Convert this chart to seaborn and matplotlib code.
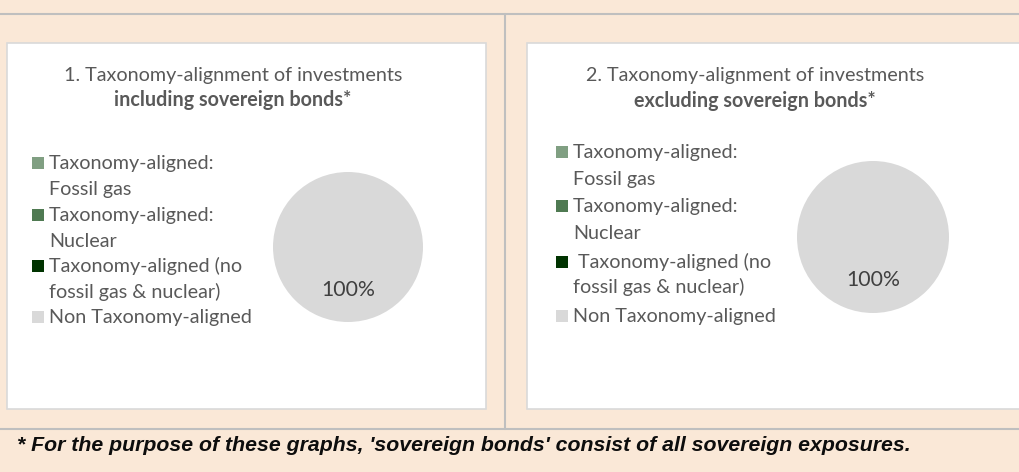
import matplotlib
matplotlib.use("Agg")
import matplotlib.pyplot as plt
import seaborn as sns
from matplotlib.patches import Rectangle
from matplotlib.lines import Line2D

# ---- data -------------------------------------------------------------
categories_incl = [
    "Taxonomy-aligned:\nFossil gas",
    "Taxonomy-aligned:\nNuclear",
    "Taxonomy-aligned (no\nfossil gas & nuclear)",
    "Non Taxonomy-aligned",
]
categories_excl = [
    "Taxonomy-aligned:\nFossil gas",
    "Taxonomy-aligned:\nNuclear",
    " Taxonomy-aligned (no\nfossil gas & nuclear)",
    "Non Taxonomy-aligned",
]
share_incl = [0, 0, 0, 100]
share_excl = [0, 0, 0, 100]
slice_colors = ["#809F82", "#4F7A52", "#003300", "#D9D9D9"]

title_lines_incl = ["1. Taxonomy-alignment of investments", "including sovereign bonds*"]
title_lines_excl = ["2. Taxonomy-alignment of investments", "excluding sovereign bonds*"]
footnote = "* For the purpose of these graphs, 'sovereign bonds' consist of all sovereign exposures."

# ---- style ------------------------------------------------------------
sns.set_theme(style="white")
plt.rcParams["font.family"] = ["Lato", "DejaVu Sans"]

W, H = 1019, 472
BG = "#FAE8D7"
TEXT = "#595959"
RULE = "#BFBFBF"

fig = plt.figure(figsize=(W / 100, H / 100), dpi=100)
fig.patch.set_facecolor(BG)


def fx(x):
    return x / W


def fy(y):
    return 1 - y / H


# frame rules of the table layout
for (x0, y0, x1, y1) in [(0, 14, W, 14), (0, 429, W, 429), (505, 14, 505, 429)]:
    fig.add_artist(Line2D([fx(x0), fx(x1)], [fy(y0), fy(y1)], color=RULE, lw=1.5,
                          zorder=-3))

# white chart panels (kept beneath the pie axes)
for (x0, y0, x1, y1) in [(7, 43, 486, 409), (527, 43, 1030, 409)]:
    fig.add_artist(Rectangle((fx(x0), fy(y1)), fx(x1) - fx(x0), fy(y0) - fy(y1),
                             facecolor="white", edgecolor="#D9D9D9", lw=1.2,
                             zorder=-2))


def draw_panel(values, labels, title_lines, title_x, title_base,
               cx, cy, r, pct_dist, sq_x, txt_x, baselines):
    # title (regular first line, bold second line)
    fig.text(fx(title_x), fy(title_base[0]), title_lines[0], ha="center", va="baseline",
             fontsize=14.2, color=TEXT)
    fig.text(fx(title_x), fy(title_base[1]), title_lines[1], ha="center", va="baseline",
             fontsize=14.2, color=TEXT, fontweight="bold")

    # pie
    ax = fig.add_axes([fx(cx - r), fy(cy + r), 2 * r / W, 2 * r / H])
    ax.patch.set_alpha(0)
    ax.pie(values, colors=slice_colors, startangle=90, counterclock=False,
           autopct=lambda p: f"{p:.0f}%" if p > 0 else "",
           pctdistance=pct_dist, wedgeprops=dict(linewidth=0),
           textprops=dict(color="#404040", fontsize=15.3))
    ax.set_xlim(-1, 1)
    ax.set_ylim(-1, 1)
    ax.axis("off")

    # legend: colour square next to the first line of each label
    k = 0
    for lab, col in zip(labels, slice_colors):
        lines = lab.split("\n")
        b = baselines[k]
        fig.add_artist(Rectangle((fx(sq_x), fy(b)), 12 / W, 12 / H,
                                 facecolor=col, edgecolor="none"))
        for ln in lines:
            fig.text(fx(txt_x), fy(baselines[k]), ln, ha="left", va="baseline",
                     fontsize=14.2, color=TEXT)
            k += 1


draw_panel(share_incl, categories_incl, title_lines_incl, 233, (81, 106),
           348, 247, 75, 0.57, 32, 49, [169, 195, 221, 247, 272, 298, 323])
draw_panel(share_excl, categories_excl, title_lines_excl, 755, (81, 107),
           873, 237, 76, 0.57, 556, 573, [158, 185, 212, 239, 268, 293, 322])

fig.text(fx(17), fy(451), footnote, ha="left", va="baseline", fontsize=15.3,
         fontweight="bold", fontstyle="italic", color="#0D0D0D",
         family=["Liberation Sans", "DejaVu Sans"])

fig.savefig("out.png", dpi=100, facecolor=BG)
